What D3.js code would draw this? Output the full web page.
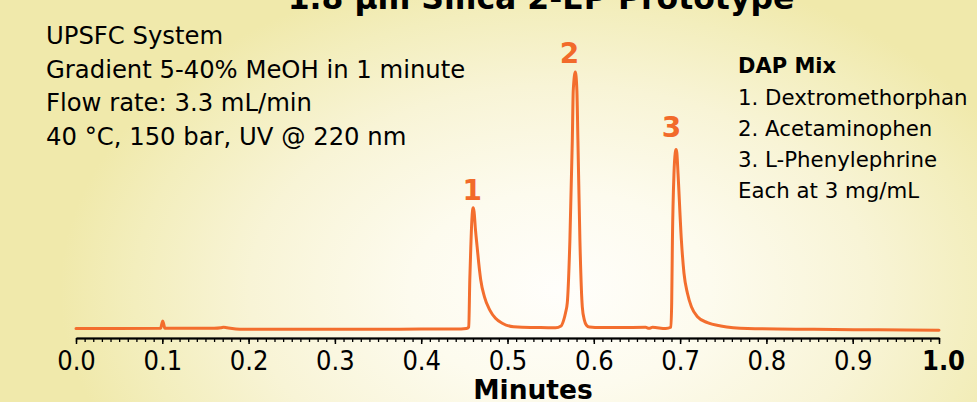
<!DOCTYPE html>
<html><head><meta charset="utf-8">
<script src="https://cdn.jsdelivr.net/npm/d3@7"></script>
<style>
html,body{margin:0;padding:0;background:#f2edb5;}
svg{display:block;}
text{font-family:"DejaVu Sans",sans-serif;}
.cond{font-family:"DejaVu Sans Condensed","DejaVu Sans",sans-serif;font-stretch:condensed;}
</style></head>
<body>
<svg id="c" width="977" height="402"></svg>
<script>
// ---- data (minutes, relative UV response; peak 2 apex = 100) ----
const times = [0.000,0.050,0.098,0.0995,0.1005,0.1015,0.103,0.130,0.160,0.168,0.171,0.175,0.190,0.250,0.300,0.350,0.400,0.440,0.4524,0.4551,0.4563,0.4575,0.4587,0.4595,0.4602,0.4613,0.4629,0.4648,0.4667,0.4690,0.4733,0.4795,0.4861,0.4939,0.5070,0.5267,0.5383,0.5557,0.5620,0.5650,0.5672,0.5693,0.5723,0.5751,0.5762,0.5786,0.5804,0.5816,0.5839,0.5867,0.5890,0.5915,0.5950,0.6079,0.6300,0.6600,0.6640,0.6680,0.6833,0.6893,0.6903,0.6911,0.6929,0.6944,0.6953,0.6962,0.6976,0.7015,0.7045,0.7085,0.7131,0.7201,0.7317,0.7471,0.7781,0.8550,0.9300,1.0000];
const signal = [-0.1,-0.1,0.0,1.8,2.9,1.8,0.0,0.0,0.0,0.2,0.4,0.2,-0.4,-0.4,-0.4,-0.4,-0.3,-0.3,-0.1,0.5,18.9,31.9,42.3,46.0,47.1,45.5,38.4,31.9,25.4,18.9,12.3,7.1,3.9,2.0,0.6,0.3,0.3,0.2,0.9,3.1,6.0,10.0,34.4,73.4,93.0,100.1,93.0,73.4,34.4,8.3,3.3,1.2,0.5,0.3,0.3,0.4,0.0,0.4,-0.1,0.4,10.9,34.4,60.4,68.6,69.8,68.6,60.4,34.4,21.5,13.7,8.4,4.5,2.2,0.9,-0.1,-0.4,-0.6,-0.8];
const peakLabels = ["1","2","3"];
const peakLabelT = [0.4592,0.5719,0.6901];
const peakLabelV = [50.3,103.6,74.7];
const majorTicks = [0,0.1,0.2,0.3,0.4,0.5,0.6,0.7,0.8,0.9,1.0];
const tickLabels = ["0.0","0.1","0.2","0.3","0.4","0.5","0.6","0.7","0.8","0.9","1.0"];
const minorTicks = d3.range(0,101).map(i=>i/100);
const title = "1.8 µm Silica 2-EP Prototype";
const leftNotes = ["UPSFC System","Gradient 5-40% MeOH in 1 minute","Flow rate: 3.3 mL/min","40 °C, 150 bar, UV @ 220 nm"];
const rightHead = "DAP Mix";
const rightNotes = ["1. Dextromethorphan","2. Acetaminophen","3. L-Phenylephrine","Each at 3 mg/mL"];

const svg = d3.select("#c");
const W=977,H=402;
const orange="#f36e2e", labelOrange="#f26a2a";

// background
const defs = svg.append("defs");
const rg = defs.append("radialGradient").attr("id","bg")
  .attr("gradientUnits","userSpaceOnUse")
  .attr("cx",560).attr("cy",290).attr("r",500)
  .attr("gradientTransform","translate(560,290) scale(1,0.66) translate(-560,-290)");
[[0,"#fffefb"],[0.3,"#fdfbee"],[0.62,"#f8f4d6"],[0.85,"#f3eebd"],[1,"#f0e9ab"]].forEach(s=>rg.append("stop").attr("offset",s[0]).attr("stop-color",s[1]));
svg.append("rect").attr("width",W).attr("height",H).attr("fill","#f0e9ab");
svg.append("rect").attr("width",W).attr("height",H).attr("fill","url(#bg)");

const x = d3.scaleLinear().domain([0,1]).range([76,939]);
const y = d3.scaleLinear().domain([0,100]).range([328.3,72.3]);

// title (cut off at top)
svg.append("text").attr("x",541).attr("y",9).attr("text-anchor","middle")
  .attr("font-size",31.5).attr("font-weight","bold").attr("fill","#000").text(title);

// axes
const axisY = 338;
const gMinor = svg.append("g").attr("transform",`translate(0,${axisY})`)
  .call(d3.axisBottom(x).tickValues(minorTicks).tickSize(4).tickSizeOuter(0).tickFormat(""));
gMinor.selectAll("path,line").attr("stroke","#000").attr("stroke-width",1.3);
const gMajor = svg.append("g").attr("transform",`translate(0,${axisY})`)
  .call(d3.axisBottom(x).tickValues(majorTicks).tickSize(6).tickSizeOuter(0).tickFormat((d,i)=>tickLabels[i]));
gMajor.select(".domain").attr("stroke","#000").attr("stroke-width",2);
gMajor.selectAll(".tick line").attr("stroke","#000").attr("stroke-width",1.5);
gMajor.selectAll(".tick text").attr("y",32).attr("dy",0).attr("fill","#000")
  .attr("font-size",27).attr("font-family",null).attr("class","cond")
  .attr("font-weight",(d,i)=>i===tickLabels.length-1?"bold":"normal");
gMajor.selectAll(".tick text").filter((d,i)=>i===tickLabels.length-1).attr("dx",4);

svg.append("text").attr("x",533).attr("y",399).attr("text-anchor","middle")
  .attr("font-size",26.5).attr("font-weight","bold").attr("fill","#000").text("Minutes");

// chromatogram
const pts = times.map((t,i)=>[t,signal[i]]);
svg.append("path").datum(pts)
  .attr("d",d3.line().x(d=>x(d[0])).y(d=>y(d[1])).curve(d3.curveMonotoneX))
  .attr("fill","none").attr("stroke",orange).attr("stroke-width",3)
  .attr("stroke-linejoin","round").attr("stroke-linecap","round");

// peak labels
svg.selectAll("text.pk").data(peakLabels).join("text").attr("class","pk")
  .attr("x",(d,i)=>x(peakLabelT[i])).attr("y",(d,i)=>y(peakLabelV[i]))
  .attr("text-anchor","middle").attr("font-size",28).attr("font-weight","bold")
  .attr("fill",labelOrange).text(d=>d);

// notes
svg.selectAll("text.ln").data(leftNotes).join("text").attr("class","ln")
  .attr("x",46).attr("y",(d,i)=>44+i*33.7).attr("font-size",24.3).attr("fill","#000").text(d=>d);
svg.append("text").attr("x",738).attr("y",73).attr("font-size",21).attr("font-weight","bold").attr("fill","#000").text(rightHead);
svg.selectAll("text.rn").data(rightNotes).join("text").attr("class","rn")
  .attr("x",738).attr("y",(d,i)=>104.5+i*31.2).attr("font-size",21.3).attr("fill","#000").text(d=>d);
</script>
</body></html>
